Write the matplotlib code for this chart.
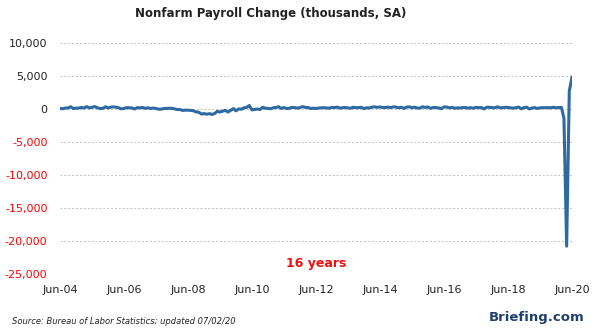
import numpy as np
import pandas as pd
import matplotlib
matplotlib.use('Agg')
import matplotlib.pyplot as plt
import matplotlib.dates as mdates

# Monthly change in nonfarm payrolls (thousands, SA), Jun 2004 - Jun 2020
payroll_2004 = [76, 39, 145, 156, 343, 61, 130]                     # Jun-Dec
payroll_2005 = [139, 240, 141, 361, 171, 248, 372, 194, 66, 86, 337, 159]
payroll_2006 = [277, 315, 281, 182, 24, 78, 207, 181, 158, 5, 209, 170]
payroll_2007 = [238, 88, 189, 79, 143, 78, -33, -16, 85, 82, 118, 97]
payroll_2008 = [15, -86, -80, -214, -182, -172, -210, -259, -452, -474, -765, -697]
payroll_2009 = [-791, -703, -823, -687, -349, -471, -329, -212, -450, -209, 60, -279]
payroll_2010 = [14, -42, 170, 245, 530, -140, -62, -9, -81, 262, 119, 87]
payroll_2011 = [43, 189, 225, 346, 77, 225, 69, 110, 248, 209, 141, 209]
payroll_2012 = [358, 237, 233, 78, 115, 76, 143, 177, 203, 146, 132, 244]
payroll_2013 = [211, 286, 130, 197, 226, 162, 122, 261, 190, 212, 258, 47]
payroll_2014 = [190, 151, 272, 329, 246, 304, 232, 218, 286, 200, 331, 286]
payroll_2015 = [192, 268, 85, 276, 338, 183, 277, 150, 138, 333, 231, 302]
payroll_2016 = [95, 235, 225, 159, 39, 315, 296, 172, 246, 125, 164, 155]
payroll_2017 = [216, 219, 124, 205, 116, 250, 194, 224, 17, 262, 252, 210]
payroll_2018 = [176, 330, 196, 192, 265, 224, 201, 131, 197, 288, 38, 215]
payroll_2019 = [269, 1, 147, 210, 85, 182, 194, 207, 208, 185, 261, 184]
payroll_2020 = [214, 251, -1373, -20787, 2725, 4800]                 # Jan-Jun

values = (payroll_2004 + payroll_2005 + payroll_2006 + payroll_2007 + payroll_2008
          + payroll_2009 + payroll_2010 + payroll_2011 + payroll_2012 + payroll_2013
          + payroll_2014 + payroll_2015 + payroll_2016 + payroll_2017 + payroll_2018
          + payroll_2019 + payroll_2020)
dates = pd.date_range('2004-06-01', periods=len(values), freq='MS')

y_ticks = [10000, 5000, 0, -5000, -10000, -15000, -20000, -25000]
x_tick_years = [2004, 2006, 2008, 2010, 2012, 2014, 2016, 2018, 2020]

fig = plt.figure(figsize=(5.96, 3.33), dpi=100)
ax = fig.add_axes([60/596, 59/333, 512/596, 231/333])

ax.plot(dates, values, color='#2e6aa1', lw=2.2, solid_joinstyle='round', zorder=3)

ax.set_ylim(-25000, 10000)
ax.set_xlim(pd.Timestamp('2004-06-01'), pd.Timestamp('2020-06-01'))
ax.set_yticks(y_ticks)
ax.set_yticklabels(['{:,}'.format(v) for v in y_ticks])
for lab, v in zip(ax.get_yticklabels(), y_ticks):
    lab.set_color('red' if v < 0 else '#222222')
ax.set_xticks([pd.Timestamp(f'{y}-06-01') for y in x_tick_years])
ax.xaxis.set_major_formatter(mdates.DateFormatter('%b-%y'))
ax.tick_params(axis='both', length=0, labelsize=8)
ax.tick_params(axis='x', pad=8)
ax.tick_params(axis='y', pad=9)
ax.grid(axis='y', color='#c0c0c0', ls=(0, (2, 2)), lw=0.7, zorder=0)
for s in ax.spines.values():
    s.set_visible(False)
for lab in ax.get_xticklabels():
    lab.set_color('#222222')

fig.text(271/596, 1 - 13/333, 'Nonfarm Payroll Change (thousands, SA)', ha='center', va='center',
         fontsize=8.5, fontweight='bold', color='#222222')
ax.text(pd.Timestamp('2012-06-01'), -23400, '16 years', ha='center', va='center',
        fontsize=9, fontweight='bold', color='#ee1111')
fig.text(12/596, 1 - 321/333, 'Source: Bureau of Labor Statistics; updated 07/02/20',
         ha='left', va='center', fontsize=6, style='italic', color='#222222')
fig.text(584/596, 1 - 318/333, 'Briefing.com', ha='right', va='center',
         fontsize=9.5, fontweight='bold', color='#1f3f6e')

plt.savefig('out.png', dpi=100)
plt.close()
